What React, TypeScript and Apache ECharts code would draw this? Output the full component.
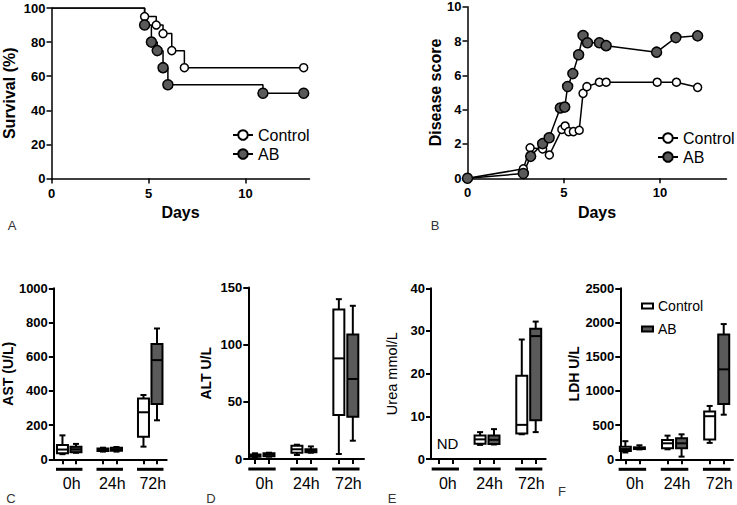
import React, { useEffect, useRef } from 'react';
import * as echarts from 'echarts';

const FONT = '"Liberation Sans", Arial, Helvetica, sans-serif';

// ---- Panel A: survival (%) ----
const survControlDays = [0, 4.8, 5.4, 5.75, 6.2, 6.85, 13.0];
const survControl = [100, 95, 90, 85, 75, 65, 65];
const survABDays = [0, 4.8, 5.15, 5.45, 5.75, 6.0, 10.9, 13.0];
const survAB = [100, 90, 80, 75, 65, 55, 50, 50];

// ---- Panel B: disease score ----
const scoreControlDays = [0, 2.9, 3.25, 3.9, 4.25, 4.9, 5.07, 5.25, 5.5, 5.8, 6.0, 6.2, 6.85, 7.2, 9.85, 10.85, 11.95];
const scoreControl = [0, 0.55, 1.78, 1.71, 1.36, 2.85, 3.05, 2.72, 2.72, 2.8, 4.95, 5.34, 5.6, 5.6, 5.6, 5.6, 5.3];
const scoreABDays = [0, 2.9, 3.28, 3.9, 4.24, 4.82, 5.05, 5.2, 5.47, 5.77, 6.0, 6.23, 6.85, 7.2, 9.82, 10.82, 11.95];
const scoreAB = [0, 0.28, 1.28, 2.02, 2.36, 4.1, 4.15, 5.35, 6.1, 7.2, 8.32, 7.9, 7.9, 7.73, 7.35, 8.2, 8.3];

// ---- Panels C-F: box plots [min, Q1, median, Q3, max] per time point ----
const timepoints = ['0h', '24h', '72h'];
const astControl = [[30, 35, 57, 84, 140], [45, 48, 55, 63, 68], [74, 132, 275, 356, 376]];
const astAB = [[38, 41, 58, 74, 90], [45, 50, 58, 68, 72], [228, 323, 580, 674, 765]];
const altControl = [[1, 2, 3, 4, 5], [3.5, 5.5, 8.5, 11.5, 12.5], [4.4, 38.4, 88, 130.7, 139.8]];
const altAB = [[2, 2.5, 4, 5, 5.5], [5.5, 6, 7, 8.5, 11], [16, 37, 70, 109, 134]];
const ureaControl = [null, [3.3, 3.6, 4.6, 5.5, 6.3], [5.8, 6, 8, 19.5, 28]];
const ureaAB = [null, [3.4, 3.5, 4.5, 5.5, 7], [6.3, 9.1, 28.8, 30.5, 32.2]];
const ldhControl = [[100, 120, 150, 185, 265], [146, 161, 234, 282, 346], [240, 290, 630, 700, 780]];
const ldhAB = [[145, 150, 165, 175, 205], [39, 161, 234, 307, 365], [652, 808, 1315, 1826, 1977]];

const AB_GRAY = '#5a5a5a';

function pairs(xs: number[], ys: number[]) {
  return xs.map((x, i) => [x, ys[i]]);
}

const groupCenter = (i: number) => 1.5 + 3 * i;

function boxSeries(name: string, values: (number[] | null)[], offset: number, idx: number, fill: string) {
  const data: number[][] = [];
  values.forEach((v, i) => {
    if (v) data.push([groupCenter(i) + offset, ...v]);
  });
  return {
    type: 'custom',
    name,
    xAxisIndex: idx,
    yAxisIndex: idx,
    silent: true,
    clip: false,
    encode: { x: 0, y: [1, 2, 3, 4, 5] },
    data,
    renderItem: (params: any, api: any) => {
      const x = api.value(0);
      const pMin = api.coord([x, api.value(1)]);
      const pQ1 = api.coord([x, api.value(2)]);
      const pMed = api.coord([x, api.value(3)]);
      const pQ3 = api.coord([x, api.value(4)]);
      const pMax = api.coord([x, api.value(5)]);
      const cx = pMin[0];
      const hw = 5.5;
      const cap = 3;
      const st = { stroke: '#000', lineWidth: 2 };
      return {
        type: 'group',
        children: [
          { type: 'line', shape: { x1: cx, y1: pMax[1], x2: cx, y2: pQ3[1] }, style: st },
          { type: 'line', shape: { x1: cx, y1: pQ1[1], x2: cx, y2: pMin[1] }, style: st },
          { type: 'line', shape: { x1: cx - cap, y1: pMax[1], x2: cx + cap, y2: pMax[1] }, style: st },
          { type: 'line', shape: { x1: cx - cap, y1: pMin[1], x2: cx + cap, y2: pMin[1] }, style: st },
          {
            type: 'rect',
            shape: { x: cx - hw, y: pQ3[1], width: 2 * hw, height: Math.max(pQ1[1] - pQ3[1], 1) },
            style: { fill, stroke: '#000', lineWidth: 2 },
          },
          { type: 'line', shape: { x1: cx - hw, y1: pMed[1], x2: cx + hw, y2: pMed[1] }, style: st },
        ],
      };
    },
  };
}

function groupBarSeries(idx: number) {
  return {
    type: 'custom',
    name: 'groups',
    xAxisIndex: idx,
    yAxisIndex: idx,
    silent: true,
    clip: false,
    data: timepoints.map((t, i) => [groupCenter(i), 0]),
    renderItem: (params: any, api: any) => {
      const c = api.value(0);
      const p = api.coord([c - 0.98, 0]);
      const q = api.coord([c + 0.98, 0]);
      return {
        type: 'line',
        shape: { x1: p[0], y1: p[1] + 10, x2: q[0], y2: p[1] + 10 },
        style: { stroke: '#000', lineWidth: 3 },
      };
    },
  };
}

const tickLabel = {
  fontSize: 13,
  fontWeight: 'bold',
  color: '#000',
  fontFamily: FONT,
  formatter: (v: number) => String(v),
};

function topXAxis(idx: number, max: number) {
  return {
    type: 'value',
    gridIndex: idx,
    min: 0,
    max,
    name: 'Days',
    nameLocation: 'middle',
    nameGap: 26,
    nameTextStyle: { fontSize: 16, fontWeight: 'bold', color: '#000', fontFamily: FONT },
    axisLine: { lineStyle: { color: '#000', width: 1.5 } },
    axisTick: { show: true, length: 5, lineStyle: { color: '#000', width: 1.5 }, customValues: [0, 5, 10] },
    axisLabel: { ...tickLabel, margin: 8, customValues: [0, 5, 10] },
    splitLine: { show: false },
  };
}

function yAxisCfg(idx: number, max: number, interval: number, name: string, nameGap: number, nameSize: number, nameWeight: string, lw: number) {
  return {
    type: 'value',
    gridIndex: idx,
    min: 0,
    max,
    interval,
    name,
    nameLocation: 'middle',
    nameRotate: 90,
    nameGap,
    nameTextStyle: { fontSize: nameSize, fontWeight: nameWeight, color: '#000', fontFamily: FONT },
    axisLine: { show: true, lineStyle: { color: '#000', width: lw } },
    axisTick: { show: true, length: 5, lineStyle: { color: '#000', width: lw } },
    axisLabel: { ...tickLabel, margin: 6 },
    splitLine: { show: false },
  };
}

function boxXAxis(idx: number, min: number, max: number) {
  return {
    type: 'value',
    gridIndex: idx,
    min,
    max,
    axisLine: { lineStyle: { color: '#000', width: 2 } },
    axisTick: {
      show: true,
      length: 5,
      lineStyle: { color: '#000', width: 2 },
      customValues: timepoints.flatMap((t, i) => [groupCenter(i) - 0.5, groupCenter(i) + 0.5]),
    },
    axisLabel: {
      fontSize: 16,
      color: '#000',
      fontFamily: FONT,
      margin: 16,
      padding: [0, 0, 0, 5],
      customValues: timepoints.map((t, i) => groupCenter(i)),
      formatter: (v: number) => timepoints[Math.round((v - 1.5) / 3)] ?? '',
    },
    splitLine: { show: false },
  };
}

function lineSeries(name: string, data: number[][], idx: number, fill: string, size: number, step: boolean) {
  return {
    type: 'line',
    name,
    xAxisIndex: idx,
    yAxisIndex: idx,
    step: step ? 'end' : false,
    silent: true,
    symbol: 'circle',
    symbolSize: size,
    data: data.map((d, i) => (step && i === 0 ? { value: d, symbol: 'none' } : d)),
    lineStyle: { color: '#000', width: 1.5 },
    itemStyle: { color: fill, borderColor: '#000', borderWidth: 1.5 },
  };
}

const legendText = { fontSize: 16, color: '#000', fontFamily: FONT };

function panelLetter(t: string, x: number, y: number) {
  return {
    type: 'text',
    x,
    y,
    silent: true,
    style: { text: t, fontSize: 13, fontFamily: FONT, fill: '#333', align: 'center', verticalAlign: 'middle' },
  };
}

export default function App() {
  const ref = useRef<HTMLDivElement>(null);
  useEffect(() => {
    if (!ref.current) return;
    const chart = echarts.init(ref.current, undefined, { renderer: 'svg' });
    const option: any = {
      animation: false,
      backgroundColor: '#fff',
      grid: [
        { left: 51.5, top: 8, width: 258, height: 170.5 },
        { left: 467.5, top: 6.7, width: 259, height: 171.6 },
        { left: 50, top: 288.3, width: 116.7, height: 171 },
        { left: 248.3, top: 287.5, width: 115.7, height: 171.5 },
        { left: 431, top: 288.3, width: 114.7, height: 170.7 },
        { left: 620.3, top: 288.3, width: 112.7, height: 171 },
      ],
      xAxis: [
        topXAxis(0, 13.3),
        topXAxis(1, 13.45),
        boxXAxis(2, 0.36, 8.72),
        boxXAxis(3, 0.52, 8.8),
        boxXAxis(4, 0.47, 8.72),
        boxXAxis(5, 0.64, 8.66),
      ],
      yAxis: [
        yAxisCfg(0, 100, 20, 'Survival (%)', 34, 16, 'bold', 1.5),
        yAxisCfg(1, 10, 2, 'Disease score', 24.5, 16, 'bold', 1.5),
        yAxisCfg(2, 1000, 200, 'AST (U/L)', 29, 14, 'bold', 2),
        yAxisCfg(3, 150, 50, 'ALT U/L', 35.5, 14, 'bold', 2),
        yAxisCfg(4, 40, 10, 'Urea mmol/L', 32, 14.5, 'normal', 2),
        yAxisCfg(5, 2500, 500, 'LDH U/L', 31, 14, 'bold', 2),
      ],
      legend: [
        {
          left: 227, top: 122, orient: 'vertical', itemWidth: 20, itemHeight: 12, itemGap: 3,
          data: ['Control', 'AB'], textStyle: legendText, selectedMode: false,
        },
        {
          left: 652, top: 125, orient: 'vertical', itemWidth: 20, itemHeight: 12, itemGap: 3,
          data: ['Control', 'AB'], textStyle: legendText, selectedMode: false,
        },
        {
          left: 636, top: 294, orient: 'vertical', itemWidth: 11, itemHeight: 5, itemGap: 9,
          selectedMode: false,
          data: [
            { name: 'Control', icon: 'rect', itemStyle: { color: '#fff', borderColor: '#000', borderWidth: 2 } },
            { name: 'AB', icon: 'rect', itemStyle: { color: AB_GRAY, borderColor: '#000', borderWidth: 2 } },
          ],
          textStyle: { fontSize: 14, color: '#000', fontFamily: FONT },
        },
      ],
      graphic: [
        panelLetter('A', 12, 225),
        panelLetter('B', 435, 225),
        panelLetter('C', 11, 498),
        panelLetter('D', 211, 498),
        panelLetter('E', 392, 498),
        panelLetter('F', 562, 491),
        {
          type: 'text', x: 447.5, y: 443, silent: true,
          style: { text: 'ND', fontSize: 15, fontFamily: FONT, fill: '#000', align: 'center', verticalAlign: 'middle' },
        },
      ],
      series: [
        lineSeries('Control', pairs(survControlDays, survControl), 0, '#fff', 8, true),
        lineSeries('AB', pairs(survABDays, survAB), 0, AB_GRAY, 10, true),
        lineSeries('Control', pairs(scoreControlDays, scoreControl), 1, '#fff', 8, false),
        lineSeries('AB', pairs(scoreABDays, scoreAB), 1, AB_GRAY, 10, false),
        groupBarSeries(2), groupBarSeries(3), groupBarSeries(4), groupBarSeries(5),
        boxSeries('Control', astControl, -0.5, 2, '#fff'),
        boxSeries('AB', astAB, 0.5, 2, AB_GRAY),
        boxSeries('Control', altControl, -0.5, 3, '#fff'),
        boxSeries('AB', altAB, 0.5, 3, AB_GRAY),
        boxSeries('Control', ureaControl, -0.5, 4, '#fff'),
        boxSeries('AB', ureaAB, 0.5, 4, AB_GRAY),
        boxSeries('Control', ldhControl, -0.5, 5, '#fff'),
        boxSeries('AB', ldhAB, 0.5, 5, AB_GRAY),
      ],
    };
    chart.setOption(option);
    return () => chart.dispose();
  }, []);
  return <div ref={ref} style={{ position: 'fixed', left: 0, top: 0, width: 737, height: 505, background: '#fff' }} />;
}
